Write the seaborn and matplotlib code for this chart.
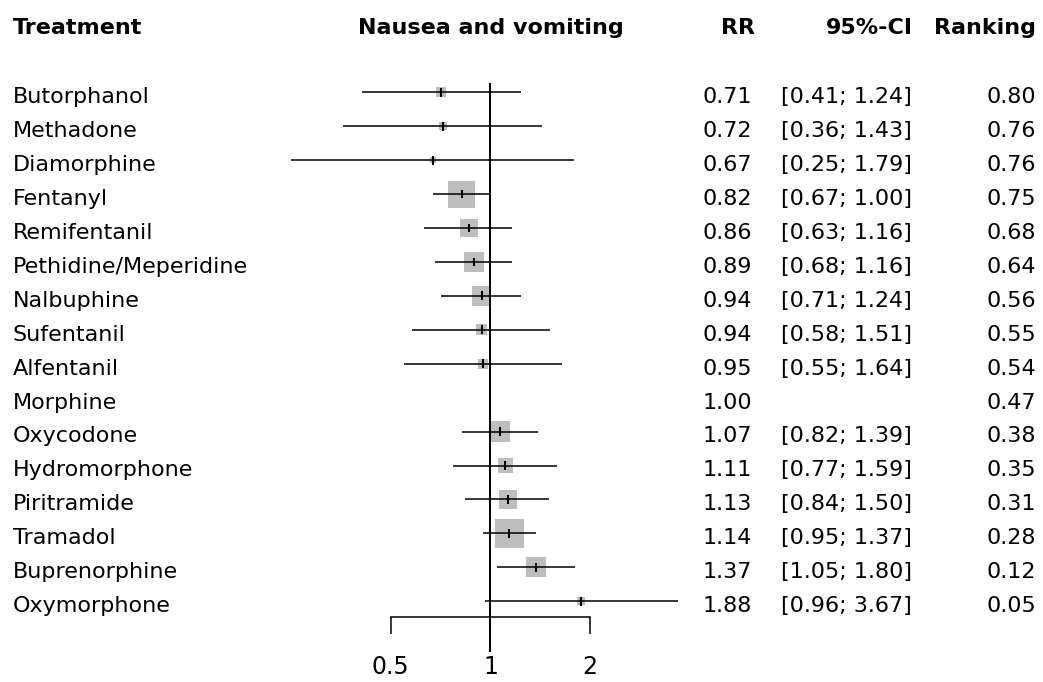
import numpy as np
import pandas as pd
import matplotlib
matplotlib.use("Agg")
import matplotlib.pyplot as plt
import seaborn as sns

# Network meta-analysis results: nausea and vomiting, relative risk vs morphine
treatments = ["Butorphanol", "Methadone", "Diamorphine", "Fentanyl", "Remifentanil",
              "Pethidine/Meperidine", "Nalbuphine", "Sufentanil", "Alfentanil", "Morphine",
              "Oxycodone", "Hydromorphone", "Piritramide", "Tramadol", "Buprenorphine",
              "Oxymorphone"]
rr = [0.71, 0.72, 0.67, 0.82, 0.86, 0.89, 0.94, 0.94, 0.95, 1.00,
      1.07, 1.11, 1.13, 1.14, 1.37, 1.88]
ci_lower = [0.41, 0.36, 0.25, 0.67, 0.63, 0.68, 0.71, 0.58, 0.55, np.nan,
            0.82, 0.77, 0.84, 0.95, 1.05, 0.96]
ci_upper = [1.24, 1.43, 1.79, 1.00, 1.16, 1.16, 1.24, 1.51, 1.64, np.nan,
            1.39, 1.59, 1.50, 1.37, 1.80, 3.67]
ranking = [0.80, 0.76, 0.76, 0.75, 0.68, 0.64, 0.56, 0.55, 0.54, 0.47,
           0.38, 0.35, 0.31, 0.28, 0.12, 0.05]
x_ticks = [0.5, 1, 2]
x_tick_labels = ["0.5", "1", "2"]
headers = ["Treatment", "Nausea and vomiting", "RR", "95%-CI", "Ranking"]

df = pd.DataFrame({"treatment": treatments, "rr": rr, "lower": ci_lower,
                   "upper": ci_upper, "ranking": ranking})
df["row"] = np.arange(len(df))
ci = df.dropna(subset=["lower", "upper"]).copy()
# box area proportional to inverse variance (SE recovered from the 95% CI)
ci["se"] = (np.log(ci["upper"]) - np.log(ci["lower"])) / (2 * 1.959964)
box_px = 2.75 / ci["se"]
ci["box_s"] = (box_px * 72 / 100) ** 2

sns.set_style("white")
plt.rcParams["font.family"] = ["DejaVu Sans"]
plt.rcParams["text.color"] = "black"

fig = plt.figure(figsize=(10.43, 6.82), dpi=100)
ax = fig.add_axes([0, 0, 1, 1])
ax.set_xscale("log")
ax.set_xlim(2 ** -4.917, 2 ** 5.54)
ax.set_ylim(17.38, -2.72)
ax.patch.set_alpha(0)

# weight boxes
sns.scatterplot(data=ci, x="rr", y="row", marker="s", s=ci["box_s"].to_numpy(),
                color="#bebebe", linewidth=0, ax=ax, legend=False, zorder=2)
# confidence intervals and point estimates
ax.hlines(ci["row"], ci["lower"], ci["upper"], color="black", lw=1.1, zorder=3)
ax.vlines(ci["rr"], ci["row"] - 0.13, ci["row"] + 0.13, color="black", lw=1.5, zorder=4)
# line of no effect
ax.vlines(1, -0.27, 16.49, color="black", lw=1.4, zorder=3)

# x axis drawn under the rows
for side in ["top", "left", "right"]:
    ax.spines[side].set_visible(False)
ax.spines["bottom"].set_position(("data", 15.46))
ax.spines["bottom"].set_bounds(0.5, 2)
ax.spines["bottom"].set_linewidth(1.1)
ax.spines["bottom"].set_color("black")
ax.set_xticks(x_ticks)
ax.set_xticklabels(x_tick_labels)
ax.xaxis.set_minor_locator(matplotlib.ticker.NullLocator())
ax.tick_params(axis="x", direction="out", length=12.5, width=1.1, pad=15,
               labelsize=17, colors="black", bottom=True)
ax.set_yticks([])
ax.set_xlabel("")
ax.set_ylabel("")

fs = 16
tr = ax.get_yaxis_transform()
body_off = 0.32
head_y = -1.72
txt = dict(va="baseline", color="black")

# column headers
ax.text(13 / 1043, head_y, headers[0], transform=tr, ha="left",
        fontsize=fs, fontweight="bold", **txt)
ax.text(1, head_y, headers[1], ha="center", fontsize=fs, fontweight="bold", **txt)
ax.text(755 / 1043, head_y, headers[2], transform=tr, ha="right",
        fontsize=fs, fontweight="bold", **txt)
ax.text(913 / 1043, head_y, headers[3], transform=tr, ha="right",
        fontsize=fs, fontweight="bold", **txt)
ax.text(1036 / 1043, head_y, headers[4], transform=tr, ha="right",
        fontsize=fs, fontweight="bold", **txt)

# table columns
for _, r in df.iterrows():
    y = r["row"] + body_off
    ax.text(13 / 1043, y, r["treatment"], transform=tr, ha="left", fontsize=fs, **txt)
    ax.text(752 / 1043, y, f"{r['rr']:.2f}", transform=tr, ha="right",
            fontsize=fs, **txt)
    if not np.isnan(r["lower"]):
        ax.text(912 / 1043, y, f"[{r['lower']:.2f}; {r['upper']:.2f}]",
                transform=tr, ha="right", fontsize=fs, **txt)
    ax.text(1036 / 1043, y, f"{r['ranking']:.2f}", transform=tr, ha="right",
            fontsize=fs, **txt)

fig.savefig("out.png", dpi=100, facecolor="white")
